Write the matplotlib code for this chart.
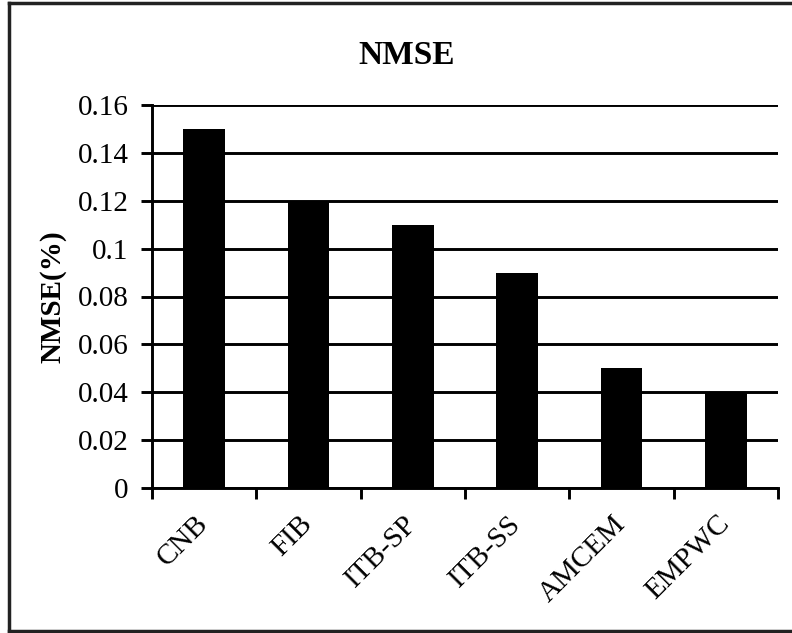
import matplotlib
matplotlib.use('Agg')
import matplotlib.pyplot as plt
from matplotlib.lines import Line2D
import numpy as np

methods = ['CNB', 'FIB', 'ITB-SP', 'ITB-SS', 'AMCEM', 'EMPWC']
nmse = [0.15, 0.12, 0.11, 0.09, 0.05, 0.04]
yticks = [0, 0.02, 0.04, 0.06, 0.08, 0.1, 0.12, 0.14, 0.16]
ytick_labels = ['0', '0.02', '0.04', '0.06', '0.08', '0.1', '0.12', '0.14', '0.16']

plt.rcParams['font.family'] = ['Liberation Serif', 'DejaVu Serif']

fig = plt.figure(figsize=(7.92, 6.33), dpi=100)
ax = fig.add_axes([152/792, 1-488/633, (778-152)/792, (488-105)/633])

x = np.arange(len(methods))
ax.bar(x, nmse, width=0.4, color='black', zorder=3)

ax.set_xlim(-0.5, len(methods) - 0.5)
ax.set_ylim(0, 0.16)
ax.set_yticks(yticks)
ax.set_yticklabels(ytick_labels, fontsize=21)
ax.yaxis.grid(True, color='black', linewidth=2.1, zorder=1)
ax.set_axisbelow(True)

# category boundary ticks, labels at centres
ax.set_xticks(np.arange(len(methods) + 1) - 0.5)
ax.set_xticklabels([])
ax.set_xticks(x, minor=True)
ax.set_xticklabels(methods, minor=True, fontsize=21, rotation=45,
                   ha='right', va='center', rotation_mode='anchor')
ax.tick_params(axis='x', which='minor', length=0, pad=23)
ax.tick_params(axis='x', which='major', direction='out', length=8, width=2.1)
ax.tick_params(axis='y', direction='out', length=8, width=2.1, pad=9)

for s in ['top', 'right']:
    ax.spines[s].set_visible(False)
for s in ['left', 'bottom']:
    ax.spines[s].set_linewidth(2.1)

ax.set_ylabel('NMSE(%)', fontsize=21, fontweight='bold', labelpad=8)
fig.text(407/792, 1-55/633, 'NMSE', fontsize=24, fontweight='bold',
         ha='center', va='center')

# outer frame (top, left, bottom)
frame_kw = dict(color='#222222', linewidth=2.5, transform=fig.transFigure)
fig.add_artist(Line2D([9/792, 1], [1-3/633, 1-3/633], **frame_kw))
fig.add_artist(Line2D([9/792, 9/792], [1-3/633, 1-631/633], **frame_kw))
fig.add_artist(Line2D([9/792, 1], [1-631/633, 1-631/633], **frame_kw))

fig.savefig('out.png', dpi=100)
